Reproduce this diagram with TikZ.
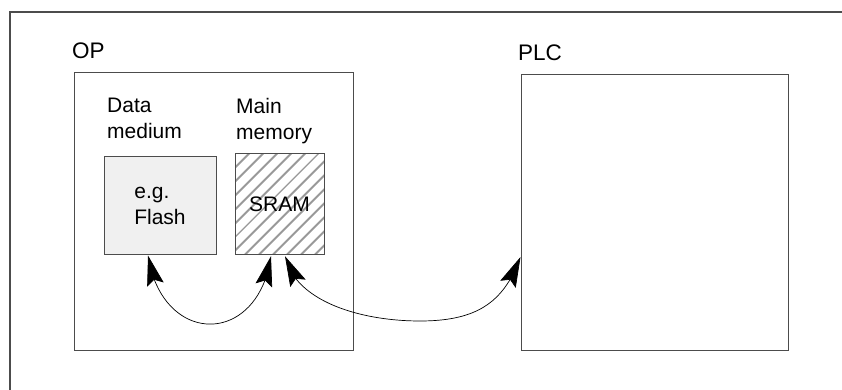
\documentclass[tikz,border=0pt]{standalone}
\usepackage{fontspec}
\setmainfont{Liberation Sans}
\usetikzlibrary{arrows.meta, positioning, patterns.meta, bending}

\begin{document}
\begin{tikzpicture}[
    x=1pt, y=1pt,
    font=\fontsize{21}{26}\selectfont,
    unitbox/.style={draw=black!70, line width=1pt, inner sep=0pt},
    memcell/.style={draw=black!70, line width=1pt, align=left, inner sep=0pt},
    caption/.style={anchor=north west, align=left, inner sep=0pt},
    title/.style={anchor=base west, inner sep=0pt, font=\fontsize{22.5}{27}\selectfont},
    link/.style={{Stealth[length=30pt, width=17pt, inset=5pt]}-{Stealth[length=30pt, width=17pt, inset=5pt]}, line width=0.7pt}
]
  \useasboundingbox (0,0) rectangle (842,390);
  \draw[black!70, line width=1.2pt] (10,0) |- (842,378);

  % OP side
  \node[title] (optitle) at (72,331) {OP};
  \node[unitbox, minimum width=279pt, minimum height=278pt] (op) at (213.5,178) {};
  \node[caption] (medlabel) at (107,292) {Data\\medium};
  \node[caption] (memlabel) at (236,292) {Main\\memory};
  \node[memcell, fill=black!6, minimum width=112pt, minimum height=98pt] (flash) at (160,184) {e.g.\\Flash};
  \node[memcell, pattern={Lines[angle=45, distance=10.5pt, line width=2.4pt]}, pattern color=black!40,
        minimum width=89pt, minimum height=101pt] (sram) at (279.5,185.5) {SRAM};

  % PLC side
  \node[title] (plctitle) at (518,329) {PLC};
  \node[unitbox, minimum width=267pt, minimum height=276pt] (plc) at (654.5,177) {};

  % transfers
  \coordinate (dip) at (420,69);
  \draw[link] ([xshift=-12pt]flash.south) .. controls +(14,-91) and +(-13,-91) .. ([xshift=-8.5pt]sram.south);
  \draw[link] ([xshift=5.5pt]sram.south) .. controls +(10,-45) and +(-60,0) .. (dip)
              .. controls +(60,0) and +(-16,-43) .. ([yshift=-44pt]plc.west);
\end{tikzpicture}
\end{document}
